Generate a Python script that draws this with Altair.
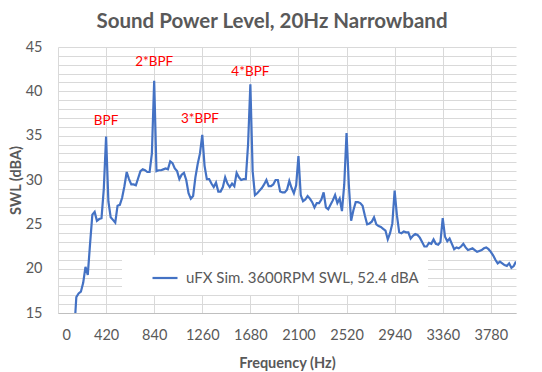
import altair as alt
import pandas as pd

# ---- data ----
freqs = list(range(140, 4001, 20))   # 20 Hz narrowband centre frequencies
swl = [
    12.5, 16.8, 17.2, 17.4, 18.4, 20.2, 19.3, 22.8, 26.1, 26.4,
    25.4, 25.6, 25.7, 29.0, 34.9, 27.6, 25.8, 25.5, 25.2, 27.1,
    27.2, 28.0, 29.3, 30.9, 30.1, 29.5, 29.5, 29.4, 30.2, 31.0,
    31.2, 31.1, 30.9, 30.9, 33.0, 41.2, 31.0, 31.1, 31.1, 31.2,
    31.3, 31.2, 32.1, 31.9, 31.3, 31.0, 30.1, 30.6, 30.8, 30.0,
    28.5, 27.9, 28.2, 30.3, 31.8, 33.0, 35.1, 31.6, 30.1, 30.1,
    29.6, 29.2, 29.7, 28.7, 28.7, 29.2, 30.3, 29.6, 29.2, 29.6,
    29.3, 30.8, 30.3, 30.0, 30.1, 30.1, 34.0, 40.8, 31.0, 28.3,
    28.5, 28.8, 29.1, 29.5, 30.0, 29.3, 29.3, 29.5, 30.0, 30.0,
    28.7, 28.6, 28.6, 28.9, 29.9, 29.1, 28.5, 29.4, 32.7, 28.3,
    27.6, 27.8, 28.2, 27.9, 27.5, 26.9, 27.4, 27.4, 27.8, 28.6,
    26.9, 26.7, 27.2, 27.7, 28.3, 27.4, 27.9, 26.5, 29.5, 35.3,
    29.5, 25.4, 26.6, 27.5, 27.5, 27.4, 27.1, 26.0, 25.0, 25.1,
    25.3, 25.8, 25.0, 24.8, 24.7, 24.5, 24.3, 23.3, 24.0, 25.1,
    28.8, 26.0, 24.1, 24.0, 24.2, 24.1, 24.1, 23.4, 23.7, 23.9,
    23.8, 23.5, 23.0, 22.5, 22.5, 22.9, 22.8, 23.3, 22.8, 22.7,
    23.0, 25.7, 23.6, 23.1, 23.4, 22.8, 22.2, 22.4, 22.3, 22.5,
    22.8, 22.4, 22.1, 22.2, 22.3, 22.1, 21.9, 22.0, 22.1, 22.3,
    22.4, 22.2, 21.9, 21.5, 21.0, 20.6, 20.8, 20.6, 20.4, 20.3,
    20.6, 20.1, 20.3, 20.8,
]
series_name = "uFX Sim. 3600RPM SWL, 52.4 dBA"

x_ticks = [0, 420, 840, 1260, 1680, 2100, 2520, 2940, 3360, 3780]
y_grid = list(range(15, 46))

ann_labels = ["BPF", "2*BPF", "3*BPF", "4*BPF"]
ann_freq = [420, 840, 1240, 1680]
ann_db = [36.6, 43.3, 36.9, 42.2]

assert len(freqs) == len(swl)

df = pd.DataFrame({"freq": freqs, "swl": swl, "series": series_name})
ann = pd.DataFrame({"label": ann_labels, "freq": ann_freq, "db": ann_db})

FONT = "Lato"
GREY = "#595959"

x_scale = alt.Scale(domain=[-0.01, 4000], nice=False, zero=False)
y_scale = alt.Scale(domain=[15, 45], nice=False, zero=False)

x_axis = alt.Axis(
    values=x_ticks, tickCount=len(x_ticks) + 2, format="d",
    title="Frequency (Hz)", grid=True, ticks=False,
    labelPadding=15, labelFontSize=14.5, labelColor=GREY, labelFont=FONT,
    labelOverlap=False, labelFlush=True, labelFlushOffset=-4, labelBound=False,
    titleFont=FONT, titleFontSize=14.5, titleFontWeight="bold", titleColor=GREY,
    titleBaseline="alphabetic", titleY=54,
    domainColor="#BFBFBF",
)
y_axis = alt.Axis(
    values=y_grid, tickCount=len(y_grid),
    labelExpr="datum.value % 5 === 0 ? datum.label : ''",
    title="SWL (dBA)", grid=True, ticks=False, domain=False,
    labelPadding=16, labelFontSize=14.5, labelColor=GREY, labelFont=FONT,
    labelOverlap=False, labelFlush=False,
    titleFont=FONT, titleFontSize=14.5, titleFontWeight="bold", titleColor=GREY,
    titleX=-42, titleY=133, titleAngle=270, titleBaseline="middle", titleAlign="center",
)

line = alt.Chart(df).mark_line(strokeWidth=2.2, clip=True).encode(
    x=alt.X("freq:Q", scale=x_scale, axis=x_axis),
    y=alt.Y("swl:Q", scale=y_scale, axis=y_axis),
    color=alt.Color(
        "series:N",
        scale=alt.Scale(range=["#4472C4"]),
        legend=alt.Legend(
            orient="none", legendX=64, legendY=208, title=None,
            fillColor="white", padding=9, symbolOffset=20,
            symbolType="stroke", symbolSize=625, symbolStrokeWidth=2.2,
            labelFont=FONT, labelFontSize=15, labelColor=GREY, labelOffset=7,
            labelLimit=400,
        ),
    ),
)

text = alt.Chart(ann).mark_text(
    color="#FF0000", font=FONT, fontSize=13.5, baseline="middle", align="center"
).encode(
    x=alt.X("freq:Q", scale=x_scale, axis=x_axis),
    y=alt.Y("db:Q", scale=y_scale, axis=y_axis),
    text="label:N",
)

chart = alt.layer(line, text).properties(
    width=458,
    height=266,
    title=alt.TitleParams(
        text="Sound Power Level, 20Hz Narrowband", font=FONT, fontSize=20.5,
        fontWeight="bold", color=GREY, anchor="middle", frame="group",
        dx=-15, dy=29, offset=20, baseline="alphabetic",
    ),
    autosize=alt.AutoSizeParams(type="none"),
    padding={"left": 50, "top": 39, "right": 18, "bottom": 58},
).configure_view(stroke=None).configure_axis(
    gridColor="#D9D9D9", gridWidth=1
)

chart.save("out.html", embed_options={"renderer": "svg", "actions": False})
